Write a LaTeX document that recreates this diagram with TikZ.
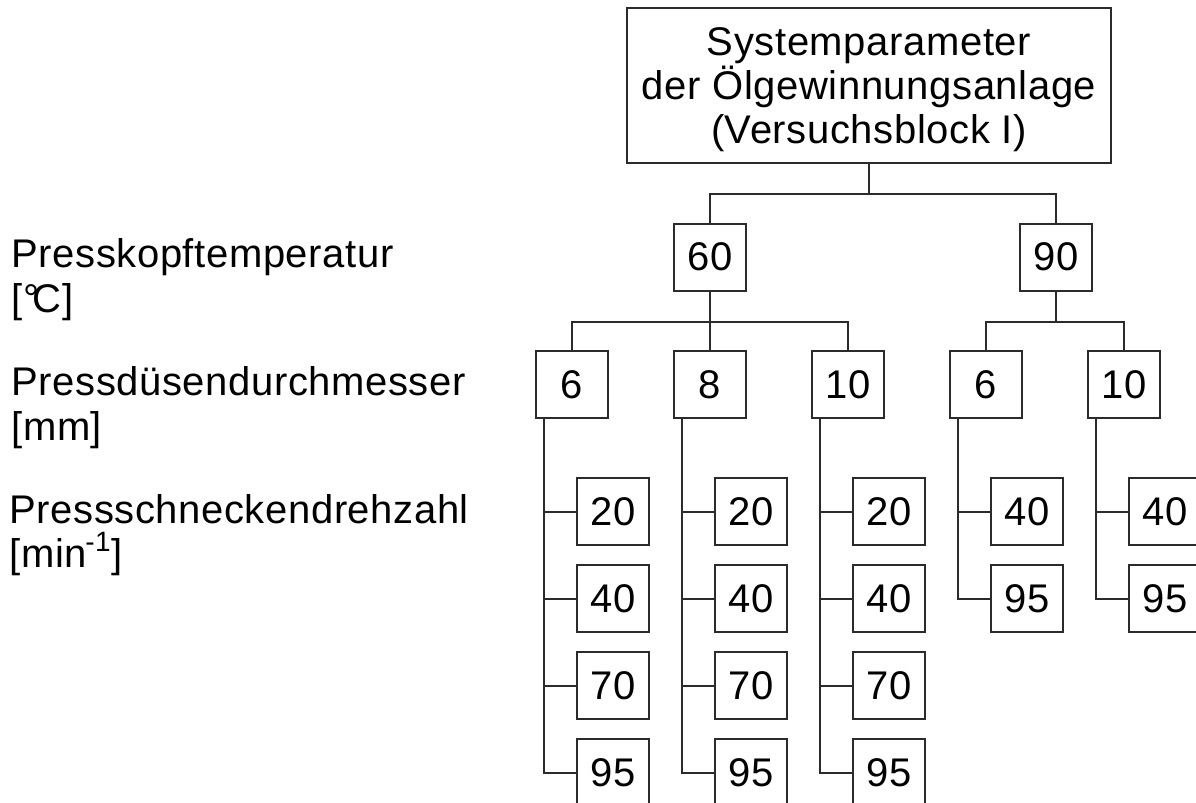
\documentclass[tikz,border=0pt]{standalone}
\usepackage{fontspec}
\setmainfont{Liberation Sans}[LetterSpace=1.5]
\definecolor{linec}{HTML}{2B2B2B}
\begin{document}
\begin{tikzpicture}[x=0.5pt,y=-0.5pt,
  every node/.style={font=\fontsize{20}{22}\selectfont, text=black},
  box/.style={draw=linec, line width=1pt, minimum width=36pt, minimum height=33.5pt, inner sep=0pt},
  link/.style={draw=linec, line width=1pt},
  lab/.style={anchor=base west, inner sep=0pt}]
\useasboundingbox (0,0) rectangle (1196,803);
\clip (0,0) rectangle (1196,803);

% level labels
\node[lab] (l1a) at (11,267) {Presskopftemperatur};
\node[lab] (l1b) at (11,312) {[°\kern-0.16em C]};
\node[lab] (l2a) at (11,395) {Pressdüsendurchmesser};
\node[lab] (l2b) at (11,440) {[mm]};
\node[lab] (l3a) at (9,523) {Pressschneckendrehzahl};
\node[lab] (l3b) at (9,567) {[min\textsuperscript{\kern-0.05em-1}]};

% root
\node[box, minimum width=242pt, minimum height=77.5pt, align=center, text depth=0pt]
  (top) at (869,85.5) {Systemparameter\\der Ölgewinnungsanlage\\(Versuchsblock I)};

% press head temperature
\node[box] (t60) at (710,257) {60};
\node[box] (t90) at (1056,257) {90};
\coordinate (j0) at (869,194);
\draw[link] (top.south) -- (j0);
\draw[link] (t60.north) |- (j0) -| (t90.north);

% nozzle diameter
\node[box] (da) at (572,384.5) {6};
\node[box] (db) at (710,384.5) {8};
\node[box] (dc) at (848,384.5) {10};
\node[box] (dd) at (986,384.5) {6};
\node[box] (de) at (1124,384.5) {10};
\coordinate (j1) at (710,322);
\coordinate (j2) at (1056,322);
\draw[link] (t60.south) -- (j1);
\draw[link] (da.north) |- (j1) -| (dc.north);
\draw[link] (j1) -- (db.north);
\draw[link] (t90.south) -- (j2);
\draw[link] (dd.north) |- (j2) -| (de.north);

% screw speed, four settings per nozzle at 60
\foreach \g in {a,b,c} {
  \coordinate (s\g) at ([xshift=4.5pt]d\g.south west);
  \foreach \v/\y in {20/511.5, 40/598.5, 70/685.5, 95/772.5} {
    \node[box, anchor=west] (r\g\v) at ([xshift=16pt]s\g |- 0,\y) {\v};
  }
  \draw[link] (s\g) |- (r\g95.west);
  \foreach \v in {20,40,70} {
    \draw[link] (r\g\v.west) -- (r\g\v.west -| s\g);
  }
}

% screw speed, two settings per nozzle at 90
\foreach \g in {d,e} {
  \coordinate (s\g) at ([xshift=4.5pt]d\g.south west);
  \foreach \v/\y in {40/511.5, 95/598.5} {
    \node[box, anchor=west] (r\g\v) at ([xshift=16pt]s\g |- 0,\y) {\v};
  }
  \draw[link] (s\g) |- (r\g95.west);
  \draw[link] (r\g40.west) -- (r\g40.west -| s\g);
}
\end{tikzpicture}
\end{document}
